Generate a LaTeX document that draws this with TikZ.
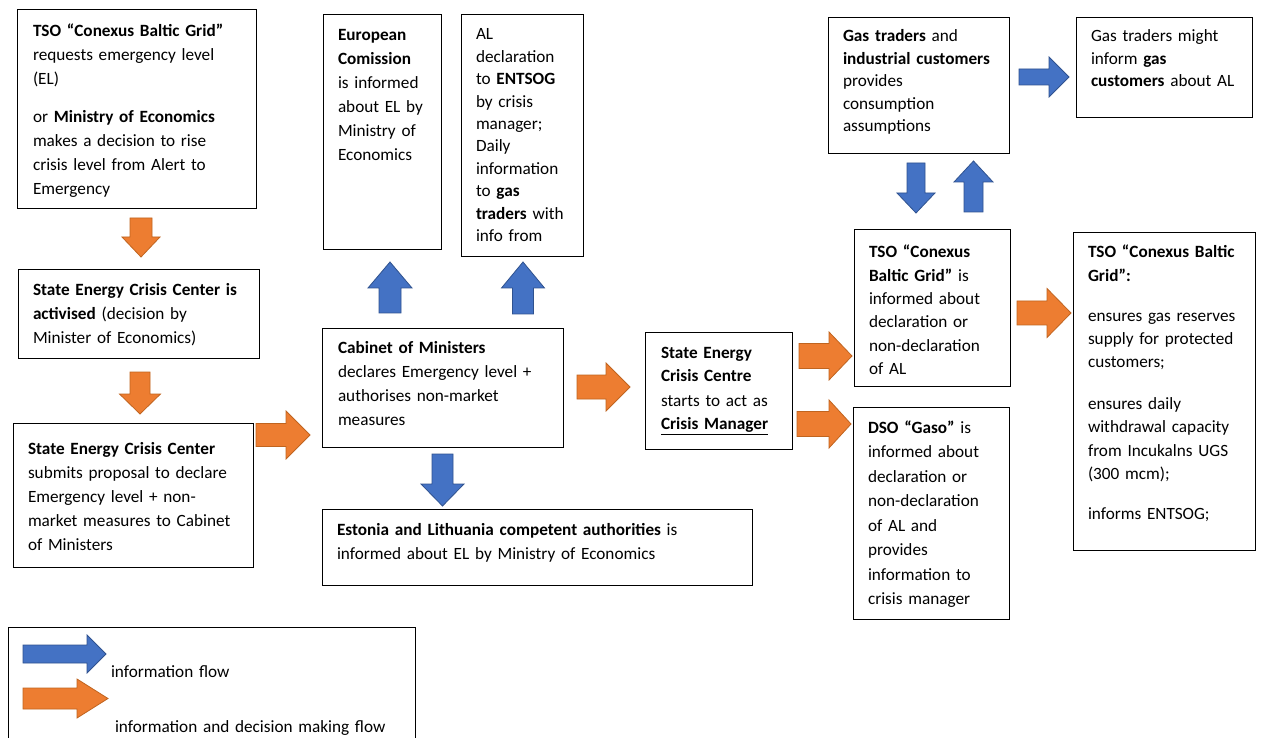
\documentclass[tikz,border=0pt]{standalone}
\usepackage{fontspec}
\setmainfont{Carlito}
\definecolor{infoblue}{HTML}{4472C4}
\definecolor{infoblueline}{HTML}{2F528F}
\definecolor{decorange}{HTML}{ED7D31}
\definecolor{decorangeline}{HTML}{C0641F}
% horizontal block arrow: style, x tail, x head base, x tip, y centre, shaft half, head half
\newcommand{\HArr}[7]{\path[#1] (#2,#5-#6) -- (#3,#5-#6) -- (#3,#5-#7) -- (#4,#5) -- (#3,#5+#7) -- (#3,#5+#6) -- (#2,#5+#6) -- cycle;}
% vertical block arrow: style, x centre, y tail, y head base, y tip, shaft half, head half
\newcommand{\VArr}[7]{\path[#1] (#2-#6,#3) -- (#2-#6,#4) -- (#2-#7,#4) -- (#2,#5) -- (#2+#7,#4) -- (#2+#6,#4) -- (#2+#6,#3) -- cycle;}
\tikzset{
  box/.style={draw=black, line width=0.9pt, anchor=north west, inner sep=0pt, outer sep=0pt},
  txt/.style={anchor=base west, inner sep=0pt, outer sep=0pt, align=left, text width=430pt,
              font=\fontsize{17.2}{24}\selectfont},
  txtn/.style={txt, font=\fontsize{17.2}{22.4}\selectfont},
  txtm/.style={txt, font=\fontsize{17.2}{23.3}\selectfont},
  txtw/.style={txt, font=\fontsize{17.2}{24.5}\selectfont},
  bluearr/.style={fill=infoblue, draw=infoblueline, line width=0.8pt},
  orangearr/.style={fill=decorange, draw=decorangeline, line width=0.8pt},
}
\begin{document}
\begin{tikzpicture}[x=1pt, y=-1pt]
\useasboundingbox (0,0) rectangle (1262,738);
\fill[white] (0,0) rectangle (1262,738);

% boxes
\node[box, minimum width=239, minimum height=199] (A) at (17,9) {};
\node[box, minimum width=241, minimum height=89] (B) at (18,269) {};
\node[box, minimum width=240, minimum height=144] (C) at (13,423) {};
\node[box, minimum width=241, minimum height=119] (D) at (322,328) {};
\node[box, minimum width=118, minimum height=235] (E) at (323,14) {};
\node[box, minimum width=122, minimum height=242] (F) at (461,14) {};
\node[box, minimum width=430, minimum height=76] (G) at (322,509) {};
\node[box, minimum width=147, minimum height=117] (H) at (645,332) {};
\node[box, minimum width=156, minimum height=157] (I) at (854,229) {};
\node[box, minimum width=156, minimum height=212] (J) at (853,407) {};
\node[box, minimum width=182, minimum height=318] (K) at (1073,232) {};
\node[box, minimum width=181, minimum height=136] (L) at (828,17) {};
\node[box, minimum width=176, minimum height=100] (M) at (1076,17) {};
\node[box, minimum width=407, minimum height=118] (Leg) at (8,627) {};

% texts
\node[txt] (At) at (33,37) {\textbf{TSO “Conexus Baltic Grid”}\\ requests emergency level\\ (EL)\\[14pt] or \textbf{Ministry of Economics}\\ makes a decision to rise\\ crisis level from Alert to\\ Emergency};
\node[txt] (Bt) at (33,296) {\textbf{State Energy Crisis Center is}\\ \textbf{activised} (decision by\\ Minister of Economics)};
\node[txt] (Ct) at (28,454) {\textbf{State Energy Crisis Center}\\ submits proposal to declare\\ Emergency level + non-\\ market measures to Cabinet\\ of Ministers};
\node[txt] (Dt) at (338,353) {\textbf{Cabinet of Ministers}\\ declares Emergency level +\\ authorises non-market\\ measures};
\node[txt] (Et) at (338,41) {\textbf{European}\\ \textbf{Comission}\\ is informed\\ about EL by\\ Ministry of\\ Economics};
\node[txtn] (Ft) at (476,40) {AL\\ declaration\\ to \textbf{ENTSOG}\\ by crisis\\ manager;\\ Daily\\ information\\ to \textbf{gas}\\ \textbf{traders} with\\ info from};
\node[txt] (Gt) at (337,535) {\textbf{Estonia and Lithuania competent authorities} is\\ informed about EL by Ministry of Economics};
\node[txt] (Ht) at (661,358) {\textbf{State Energy}\\ \textbf{Crisis Centre}\\ starts to act as\\ \underline{\textbf{Crisis Manager}}};
\node[txtm] (It) at (869,258) {\textbf{TSO “Conexus}\\ \textbf{Baltic Grid”} is\\ informed about\\ declaration or\\ non-declaration\\ of AL};
\node[txtw] (Jt) at (868,433) {\textbf{DSO “Gaso”} is\\ informed about\\ declaration or\\ non-declaration\\ of AL and\\ provides\\ information to\\ crisis manager};
\node[txtm] (Kt) at (1088,258) {\textbf{TSO “Conexus Baltic}\\ \textbf{Grid”:}\\[16.5pt] ensures gas reserves\\ supply for protected\\ customers;\\[18.5pt] ensures daily\\ withdrawal capacity\\ from Incukalns UGS\\ (300 mcm);\\[16.5pt] informs ENTSOG;};
\node[txtn] (Lt) at (843,42) {\textbf{Gas traders} and\\ \textbf{industrial customers}\\ provides\\ consumption\\ assumptions};
\node[txtn] (Mt) at (1091,42) {Gas traders might\\ inform \textbf{gas}\\ \textbf{customers} about AL};
\node[txt] (Lg1) at (111,677) {information flow};
\node[txt] (Lg2) at (115,732) {information and decision making flow};

% block arrows
\VArr{orangearr}{141}{218}{237}{257}{11}{19}
\VArr{orangearr}{140}{372}{394}{414}{10}{20.5}
\HArr{orangearr}{256}{286}{310}{435}{11.5}{24}
\VArr{bluearr}{390}{313}{288}{262}{11}{22}
\VArr{bluearr}{523}{314}{288}{262}{10.5}{21.5}
\VArr{bluearr}{442.5}{454}{484}{506}{10.5}{21.5}
\HArr{orangearr}{577}{606}{630}{387}{12}{24}
\HArr{orangearr}{799}{829}{852}{356}{12.5}{24}
\HArr{orangearr}{797}{829}{851}{424}{12.5}{24}
\HArr{orangearr}{1017}{1047}{1071}{313}{12}{24.5}
\HArr{bluearr}{1019}{1049}{1069}{77}{8}{20}
\VArr{bluearr}{916}{163}{193}{213}{9}{19}
\VArr{bluearr}{973.5}{212}{182}{161}{9.5}{19.5}
% legend arrows
\HArr{bluearr}{23}{87}{106}{654}{9}{19}
\HArr{orangearr}{23}{77}{108}{698.5}{10.5}{19.5}
\end{tikzpicture}
\end{document}
